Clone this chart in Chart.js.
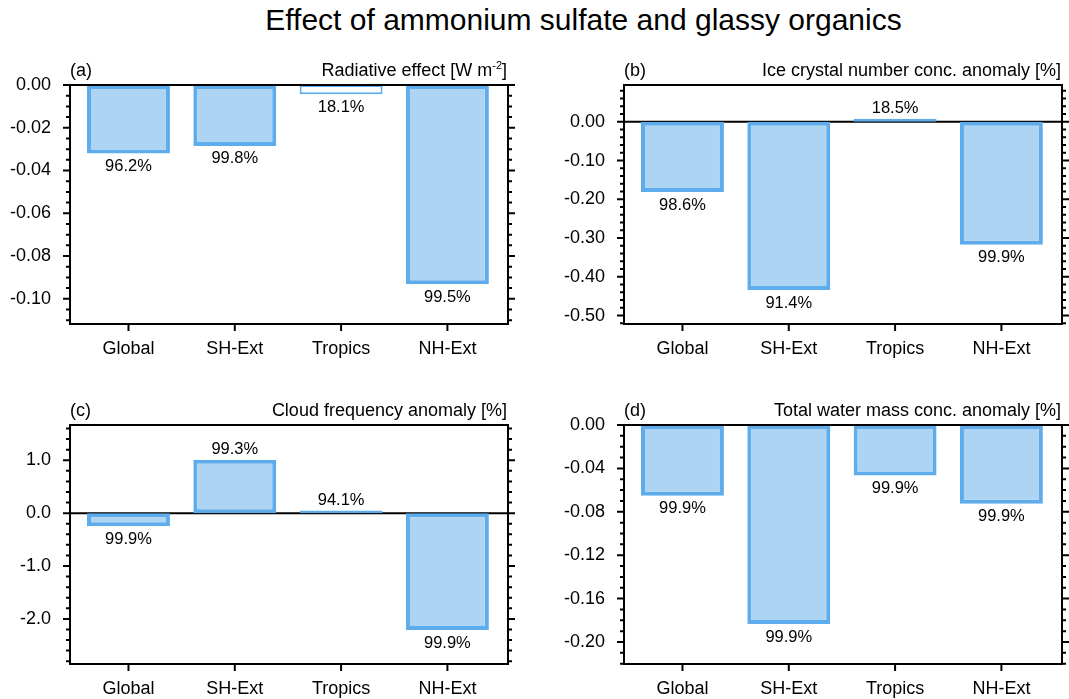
<!DOCTYPE html>
<html>
<head>
<meta charset="utf-8">
<script src="https://cdn.jsdelivr.net/npm/chart.js@4.4.1/dist/chart.umd.min.js"></script>
<style>
  html, body { margin: 0; padding: 0; background: #fff; width: 1069px; height: 699px; overflow: hidden; }
  #title {
    position: absolute; left: 0; top: 5px; width: 1167px; text-align: center;
    font: 30px "Liberation Sans", Arial, sans-serif; line-height: 30px; color: #000;
  }
  canvas { position: absolute; }
</style>
</head>
<body>
<div id="title">Effect of ammonium sulfate and glassy organics</div>
<canvas id="ca"></canvas>
<canvas id="cb"></canvas>
<canvas id="cc"></canvas>
<canvas id="cd"></canvas>
<script>
// ======================================================================
// DATA
// ======================================================================
const regions   = ['Global', 'SH-Ext', 'Tropics', 'NH-Ext'];
const regionPos = [1, 2, 3, 4];

// (a) radiative effect [W m-2]
const radEffect    = [-0.032, -0.0285, -0.0043, -0.0932];
const radSig       = [96.2, 99.8, 18.1, 99.5];
const radTicks     = [0, -0.02, -0.04, -0.06, -0.08, -0.10];

// (b) ice crystal number conc. anomaly [%]
const iceNum       = [-0.181, -0.434, 0.008, -0.317];
const iceSig       = [98.6, 91.4, 18.5, 99.9];
const iceTicks     = [0, -0.10, -0.20, -0.30, -0.40, -0.50];

// (c) cloud frequency anomaly [%]
const cloudFreq    = [-0.25, 1.01, 0.05, -2.21];
const cloudSig     = [99.9, 99.3, 94.1, 99.9];
const cloudTicks   = [1.0, 0.0, -1.0, -2.0];

// (d) total water mass conc. anomaly [%]
const waterMass    = [-0.0653, -0.1835, -0.0466, -0.0726];
const waterSig     = [99.9, 99.9, 99.9, 99.9];
const waterTicks   = [0, -0.04, -0.08, -0.12, -0.16, -0.20];

// ----------------------------------------------------------------------
const FILL = '#aed4f3';
const EDGE = '#5eacec';
const FONT = '"Liberation Sans", Arial, sans-serif';

// ======================================================================
// Frame / ticks / labels plugin (NCL-like box)
// ======================================================================
const framePlugin = {
  id: 'frame',

  beforeDatasetsDraw(chart, args, opts) {
    const { ctx, chartArea: a, scales: { y } } = chart;
    if (y.min < 0 && y.max > 0) {
      const py = y.getPixelForValue(0);
      ctx.save();
      ctx.strokeStyle = '#000';
      ctx.lineWidth = 2;
      ctx.beginPath();
      ctx.moveTo(a.left, py);
      ctx.lineTo(a.right, py);
      ctx.stroke();
      ctx.restore();
    }
  },

  afterDatasetsDraw(chart, args, opts) {
    const { ctx } = chart;
    const ds = chart.data.datasets[0];
    const meta = chart.getDatasetMeta(0);
    ctx.save();
    ctx.font = `16.5px ${FONT}`;
    ctx.fillStyle = '#000';
    ctx.textAlign = 'center';
    ctx.textBaseline = 'middle';
    meta.data.forEach((bar, i) => {
      const v = ds.data[i].y;
      const ty = v < 0 ? bar.y + 13 : bar.y - 10;
      ctx.fillText(opts.sig[i].toFixed(1) + '%', bar.x, ty);
    });
    ctx.restore();
  },

  afterDraw(chart, args, opts) {
    const { ctx, chartArea: a, scales: { x, y } } = chart;
    ctx.save();
    ctx.strokeStyle = '#000';
    ctx.lineWidth = 2;
    ctx.strokeRect(a.left, a.top, a.right - a.left, a.bottom - a.top);

    // y ticks, both sides, outward
    const lo = Math.ceil(y.min / opts.minor - 1e-6);
    const hi = Math.floor(y.max / opts.minor + 1e-6);
    for (let k = lo; k <= hi; k++) {
      const v = k * opts.minor;
      const isMajor = opts.majors.some(m => Math.abs(m - v) < opts.minor / 10);
      const len = isMajor ? 7 : 4;
      const py = y.getPixelForValue(v);
      ctx.beginPath();
      ctx.moveTo(a.left - len, py);
      ctx.lineTo(a.left, py);
      ctx.moveTo(a.right, py);
      ctx.lineTo(a.right + len, py);
      ctx.stroke();
    }

    // x ticks at category centres
    regionPos.forEach(p => {
      const px = x.getPixelForValue(p);
      ctx.beginPath();
      ctx.moveTo(px, a.bottom);
      ctx.lineTo(px, a.bottom + 7);
      ctx.stroke();
    });

    // panel tag and title
    ctx.fillStyle = '#000';
    ctx.font = `18px ${FONT}`;
    ctx.textBaseline = 'alphabetic';
    ctx.textAlign = 'left';
    ctx.fillText(opts.tag, a.left, a.top - 9);

    const tx = a.right - 1;
    const ty = a.top - 9;
    ctx.textAlign = 'right';
    if (opts.sup) {
      ctx.fillText(']', tx, ty);
      const wClose = ctx.measureText(']').width;
      ctx.font = `11px ${FONT}`;
      ctx.fillText(opts.sup, tx - wClose, ty - 7);
      const wSup = ctx.measureText(opts.sup).width;
      ctx.font = `18px ${FONT}`;
      ctx.fillText(opts.label, tx - wClose - wSup, ty);
    } else {
      ctx.fillText(opts.label, tx, ty);
    }
    ctx.restore();
  }
};

// ======================================================================
// Build one panel
// ======================================================================
function makePanel(id, box, frame, vals, sig, yMin, yMax, majors, minor, digits, tag, label, sup) {
  const canvas = document.getElementById(id);
  canvas.width = box.w;
  canvas.height = box.h;
  canvas.style.left = box.left + 'px';
  canvas.style.top = box.top + 'px';

  const yWidth = frame.L - box.left;
  const padTop = frame.T - box.top;
  const padRight = box.left + box.w - frame.R;
  const xHeight = box.top + box.h - frame.B;

  return new Chart(canvas, {
    type: 'bar',
    data: {
      datasets: [{
        data: vals.map((v, i) => ({ x: regionPos[i], y: v })),
        backgroundColor: sig.map(s => s < 50 ? '#ffffff' : FILL),
        borderColor: EDGE,
        borderWidth: sig.map(s => s < 50 ? 2 : 4),
        borderSkipped: false,
        barPercentage: 0.78,
        categoryPercentage: 1
      }]
    },
    options: {
      responsive: false,
      animation: false,
      events: [],
      layout: { padding: { top: padTop, right: padRight, left: 0, bottom: 0 } },
      plugins: {
        legend: { display: false },
        tooltip: { enabled: false },
        frame: { sig, majors, minor, tag, label, sup }
      },
      scales: {
        x: {
          type: 'linear',
          offset: false,
          min: 0.45,
          max: 4.57,
          afterBuildTicks: s => { s.ticks = regionPos.map(v => ({ value: v })); },
          afterFit: s => { s.height = xHeight; },
          ticks: {
            callback: v => regions[regionPos.indexOf(v)],
            font: { family: FONT, size: 18 },
            color: '#000',
            padding: 14,
            maxRotation: 0,
            autoSkip: false
          },
          grid: { display: false, drawTicks: false, offset: false },
          border: { display: false }
        },
        y: {
          min: yMin,
          max: yMax,
          afterBuildTicks: s => { s.ticks = majors.map(v => ({ value: v })); },
          afterFit: s => { s.width = yWidth; },
          ticks: {
            callback: v => v.toFixed(digits),
            font: { family: FONT, size: 18 },
            color: '#000',
            padding: 19
          },
          grid: { display: false, drawTicks: false },
          border: { display: false }
        }
      }
    },
    plugins: [framePlugin]
  });
}

// ======================================================================
// Layout: frames in page pixels
// ======================================================================
makePanel('ca', { left: 0,   top: 45,  w: 530, h: 325 }, { L: 70,  T: 85,  R: 508,  B: 324 },
  radEffect, radSig, -0.1118, 0, radTicks, 0.005, 2, '(a)', 'Radiative effect [W m', '-2');

makePanel('cb', { left: 530, top: 45,  w: 539, h: 325 }, { L: 624, T: 85,  R: 1062, B: 324 },
  iceNum, iceSig, -0.5218, 0.0951, iceTicks, 0.02, 2, '(b)', 'Ice crystal number conc. anomaly [%]', null);

makePanel('cc', { left: 0,   top: 385, w: 530, h: 314 }, { L: 70,  T: 425, R: 508,  B: 664 },
  cloudFreq, cloudSig, -2.853, 1.667, cloudTicks, 0.2, 1, '(c)', 'Cloud frequency anomaly [%]', null);

makePanel('cd', { left: 530, top: 385, w: 539, h: 314 }, { L: 624, T: 425, R: 1062, B: 664 },
  waterMass, waterSig, -0.2203, 0, waterTicks, 0.01, 2, '(d)', 'Total water mass conc. anomaly [%]', null);
</script>
</body>
</html>
